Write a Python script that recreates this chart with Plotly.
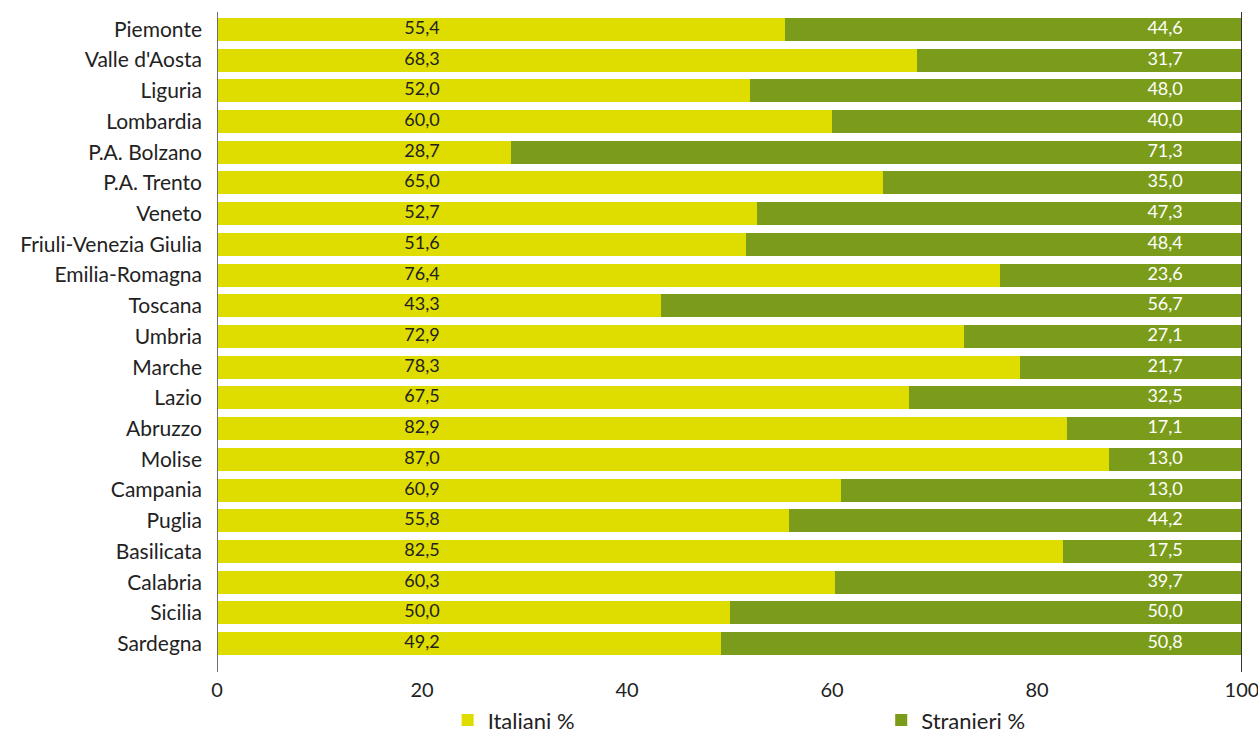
import plotly.graph_objects as go

# Regioni e quote percentuali
regioni = [
    "Piemonte", "Valle d'Aosta", "Liguria", "Lombardia", "P.A. Bolzano",
    "P.A. Trento", "Veneto", "Friuli-Venezia Giulia", "Emilia-Romagna",
    "Toscana", "Umbria", "Marche", "Lazio", "Abruzzo", "Molise",
    "Campania", "Puglia", "Basilicata", "Calabria", "Sicilia", "Sardegna",
]
italiani = [55.4, 68.3, 52.0, 60.0, 28.7, 65.0, 52.7, 51.6, 76.4, 43.3, 72.9,
            78.3, 67.5, 82.9, 87.0, 60.9, 55.8, 82.5, 60.3, 50.0, 49.2]
stranieri = [44.6, 31.7, 48.0, 40.0, 71.3, 35.0, 47.3, 48.4, 23.6, 56.7, 27.1,
             21.7, 32.5, 17.1, 13.0, 13.0, 44.2, 17.5, 39.7, 50.0, 50.8]
x_ticks = [0, 20, 40, 60, 80, 100]

GIALLO = "#DFDC00"
VERDE = "#7A9C1A"
TESTO = "#222222"
FONT = "Lato, 'Open Sans', sans-serif"

# the green segment fills the rest of each row up to 100
resto = [round(100 - v, 1) for v in italiani]


def fmt(v):
    return f"{v:.1f}".replace(".", ",")


fig = go.Figure()
fig.add_trace(go.Bar(
    y=regioni, x=italiani, orientation="h", name="Italiani %",
    marker=dict(color=GIALLO, line=dict(width=0)), legend="legend",
    hoverinfo="skip",
))
fig.add_trace(go.Bar(
    y=regioni, x=resto, orientation="h", name="Stranieri %",
    marker=dict(color=VERDE, line=dict(width=0)), legend="legend2",
    hoverinfo="skip",
))

# value labels in two fixed columns
fig.add_trace(go.Scatter(
    y=regioni, x=[20] * len(regioni), mode="text",
    text=[fmt(v) for v in italiani], textposition="middle center",
    textfont=dict(family=FONT, size=18, color=TESTO),
    showlegend=False, hoverinfo="skip", cliponaxis=False,
))
fig.add_trace(go.Scatter(
    y=regioni, x=[92.5] * len(regioni), mode="text",
    text=[fmt(v) for v in stranieri], textposition="middle center",
    textfont=dict(family=FONT, size=18, color="white"),
    showlegend=False, hoverinfo="skip", cliponaxis=False,
))

# boundary lines at 0 and 100
for xv, col in ((0, "#6f6f6f"), (100, "#333333")):
    fig.add_shape(type="line", xref="x", yref="paper", x0=xv, x1=xv,
                  y0=-0.02, y1=1.003, line=dict(color=col, width=2))

fig.update_layout(
    width=1258, height=735,
    barmode="stack", bargap=0.25,
    plot_bgcolor="white", paper_bgcolor="white",
    margin=dict(l=217, r=16, t=14, b=76),
    font=dict(family=FONT, size=18, color=TESTO),
    xaxis=dict(range=[0, 100], tickvals=x_ticks, ticktext=[str(t) for t in x_ticks],
               showgrid=False, zeroline=False, showline=False, ticks="",
               automargin=False, ticklabelstandoff=17, ticklabeloverflow="allow",
               tickfont=dict(size=20, color=TESTO)),
    yaxis=dict(range=[20.5, -0.5], autorange=False, showgrid=False,
               zeroline=False, showline=False, ticks="", automargin=False,
               ticklabelstandoff=14, tickfont=dict(size=21, color=TESTO)),
    legend=dict(orientation="h", xref="paper", yref="container", x=0.225, y=0.02,
                xanchor="left", yanchor="middle", font=dict(size=22, color=TESTO),
                bgcolor="rgba(0,0,0,0)"),
    legend2=dict(orientation="h", xref="paper", yref="container", x=0.648, y=0.02,
                 xanchor="left", yanchor="middle", font=dict(size=22, color=TESTO),
                 bgcolor="rgba(0,0,0,0)"),
)

fig.write_html("out.html")
